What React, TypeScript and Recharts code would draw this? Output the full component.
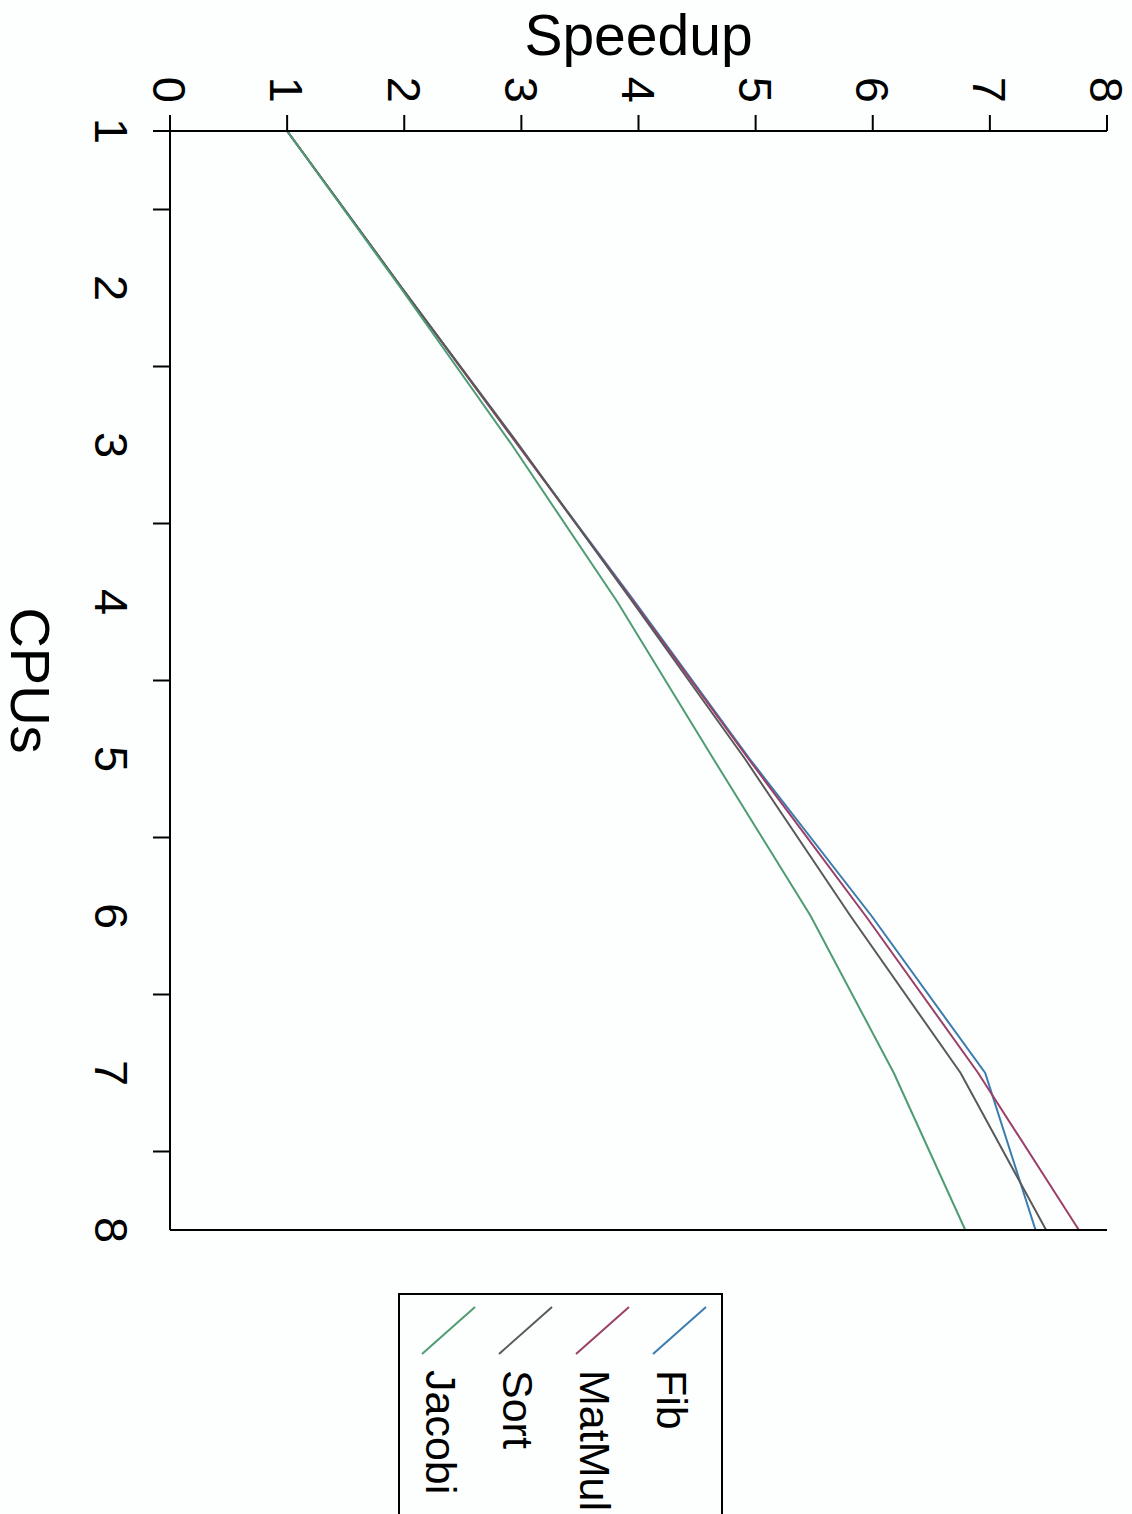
import React from 'react'
import { LineChart, Line, XAxis, YAxis, Legend } from 'recharts'

// values (speedup per CPU count)
const cpus = [1, 2, 3, 4, 5, 6, 7, 8]
const fib = [1, 1.98, 2.97, 3.97, 4.95, 5.99, 6.96, 7.39]
const matMul = [1, 1.98, 2.97, 3.96, 4.94, 5.94, 6.9, 7.76]
const sort = [1, 1.98, 2.98, 3.95, 4.91, 5.81, 6.75, 7.48]
const jacobi = [1, 1.97, 2.92, 3.82, 4.64, 5.47, 6.18, 6.79]

const cpuTicks = [1, 1.5, 2, 2.5, 3, 3.5, 4, 4.5, 5, 5.5, 6, 6.5, 7, 7.5, 8]
const speedupTicks = [0, 1, 2, 3, 4, 5, 6, 7, 8]

const seriesList = [
  { key: 'fib', name: 'Fib', color: '#3b7cb0' },
  { key: 'matMul', name: 'MatMul', color: '#9c3f68' },
  { key: 'sort', name: 'Sort', color: '#595959' },
  { key: 'jacobi', name: 'Jacobi', color: '#4f9c72' },
]

const data = cpus.map((cpu, i) => ({
  cpu,
  fib: fib[i],
  matMul: matMul[i],
  sort: sort[i],
  jacobi: jacobi[i],
}))

const FONT = '"Liberation Sans", Arial, Helvetica, sans-serif'
const CPU_TICK = 17

// chart is drawn landscape and turned a quarter clockwise, like the original
const W = 1514
const H = 1132

const CpuTick = (props: any) => {
  const { x, y, payload } = props
  const v = payload.value
  const isLabel = Number.isInteger(v)
  const hasMark = !isLabel || v === cpus[0]
  return (
    <g>
      {hasMark && <line x1={x} x2={x} y1={y - CPU_TICK} y2={y} stroke="#000" strokeWidth={2} />}
      {isLabel && (
        <text x={x} y={y + 25} dy="0.71em" textAnchor="middle" fontSize={47} fontFamily={FONT} fill="#000">
          {v}
        </text>
      )}
    </g>
  )
}

const SpeedupLabel = (props: any) => {
  const vb = props.viewBox
  const bx = vb.x + 55
  const cy = vb.y + vb.height / 2
  return (
    <text x={bx} y={cy} transform={`rotate(-90, ${bx}, ${cy})`} textAnchor="middle" fontSize={57} fontFamily={FONT} fill="#000">
      Speedup
    </text>
  )
}

const CpusLabel = (props: any) => {
  const vb = props.viewBox
  return (
    <text x={vb.x + vb.width / 2} y={vb.y + vb.height - 11} textAnchor="middle" fontSize={56} fontFamily={FONT} fill="#000">
      CPUs
    </text>
  )
}

// legend keeps the series order (Fib, MatMul, Sort, Jacobi)
const renderLegend = () => (
  <div style={{ width: 300, height: 321, border: '2px solid #000', background: '#fcfffd' }}>
    <svg width={300} height={321}>
      {seriesList.map((s, i) => (
        <g key={s.key}>
          <line x1={12} y1={15 + i * 77} x2={59} y2={68 + i * 77} stroke={s.color} strokeWidth={2} />
          <text x={75} y={64 + i * 77} fontSize={43} fontFamily={FONT} fill="#000">
            {s.name}
          </text>
        </g>
      ))}
    </svg>
  </div>
)

export default function App() {
  return (
    <div style={{ position: 'absolute', left: 0, top: 0, width: H, height: W, overflow: 'hidden', background: '#fcfffd' }}>
      <div style={{ width: W, height: H, transform: `translateX(${H}px) rotate(90deg)`, transformOrigin: '0 0' }}>
        <LineChart width={W} height={H} data={data} margin={{ top: 25, right: 234, bottom: 0, left: 0 }}>
          <XAxis
            dataKey="cpu"
            type="number"
            domain={[1, 8]}
            ticks={cpuTicks}
            interval={0}
            height={170}
            tickSize={CPU_TICK}
            tickMargin={0}
            tickLine={false}
            tick={<CpuTick />}
            axisLine={{ stroke: '#000', strokeWidth: 2 }}
            label={<CpusLabel />}
          />
          <YAxis
            type="number"
            domain={[0, 8]}
            ticks={speedupTicks}
            interval={0}
            width={131}
            tickSize={16}
            tickMargin={12}
            tick={{ fontSize: 47, fontFamily: FONT, fill: '#000' }}
            tickLine={{ stroke: '#000', strokeWidth: 2 }}
            axisLine={{ stroke: '#000', strokeWidth: 2 }}
            label={<SpeedupLabel />}
          />
          <YAxis
            yAxisId="mirror"
            orientation="right"
            type="number"
            domain={[0, 8]}
            ticks={speedupTicks}
            interval={0}
            width={50}
            tickSize={12}
            tick={false}
            tickLine={{ stroke: '#000', strokeWidth: 2 }}
            axisLine={{ stroke: '#000', strokeWidth: 2 }}
          />
          <Legend
            layout="vertical"
            align="center"
            verticalAlign="middle"
            content={renderLegend}
            wrapperStyle={{ left: 1293, top: 409, width: 'auto' }}
          />
          {seriesList.map((s) => (
            <Line
              key={s.key}
              type="linear"
              dataKey={s.key}
              name={s.name}
              stroke={s.color}
              strokeWidth={2}
              dot={false}
              isAnimationActive={false}
            />
          ))}
        </LineChart>
      </div>
    </div>
  )
}
